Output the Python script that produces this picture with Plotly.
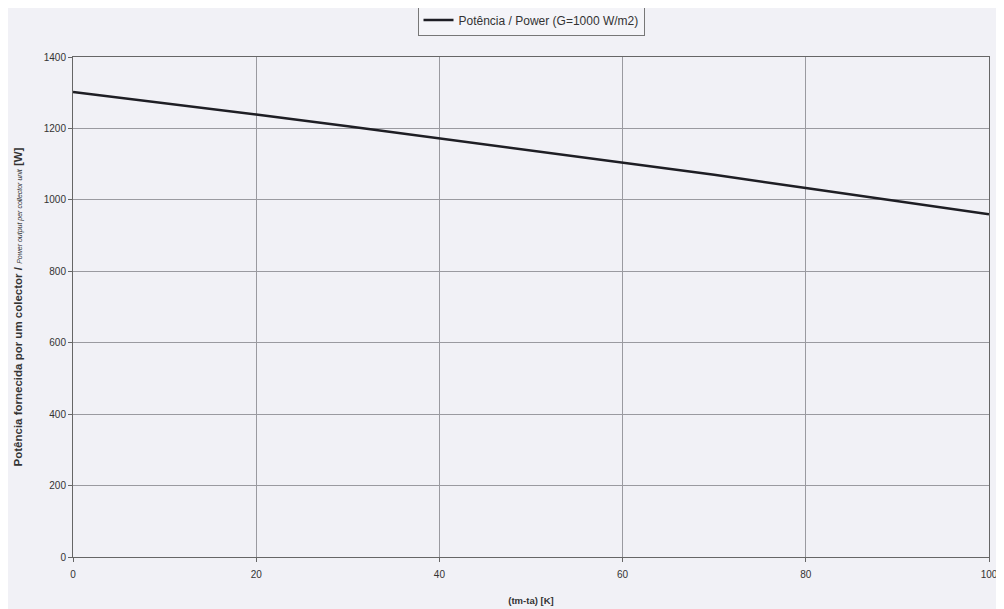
import plotly.graph_objects as go

dt = [0, 10, 20, 30, 40, 50, 60, 70, 80, 90, 100]
power = [1302, 1271, 1239, 1206, 1172, 1139, 1105, 1070, 1033, 997, 960]
x_ticks = [0, 20, 40, 60, 80, 100]
y_ticks = [0, 200, 400, 600, 800, 1000, 1200, 1400]
series_name = "Potência / Power (G=1000 W/m2)"

fig = go.Figure()
fig.add_trace(go.Scatter(x=dt, y=power, mode="lines", name=series_name,
                         line=dict(color="#1e1e24", width=2.5)))

axis_font = dict(family="Liberation Sans, Arial", size=10, color="#333")
fig.update_layout(
    width=996, height=601,
    paper_bgcolor="#f1f1f6", plot_bgcolor="#f1f1f6",
    margin=dict(l=65, r=15, t=49, b=52, autoexpand=False),
    showlegend=True,
    legend=dict(x=0.5, y=1.074, xanchor="center", yanchor="middle",
                orientation="h", bgcolor="#f4f4f8", bordercolor="#777",
                borderwidth=1, itemwidth=30, tracegroupgap=0,
                font=dict(family="Liberation Sans, Arial", size=12, color="#333")),
    xaxis=dict(range=[0, 100], tickvals=x_ticks, showgrid=True, gridcolor="#9a9aa0",
               gridwidth=1, showline=True, linecolor="#666", linewidth=1, mirror=True,
               ticks="outside", ticklen=4, tickcolor="#666", tickfont=axis_font,
               ticklabelstandoff=4,
               zeroline=False, automargin=False,
               title=dict(text="<b>(tm-ta) [K]</b>", font=dict(family="Liberation Sans, Arial", size=9.5, color="#333"),
                          standoff=18)),
    yaxis=dict(range=[0, 1400], tickvals=y_ticks, showgrid=True, gridcolor="#9a9aa0",
               gridwidth=1, showline=True, linecolor="#666", linewidth=1, mirror=True,
               ticks="outside", ticklen=4, tickcolor="#666", tickfont=axis_font,
               zeroline=True, zerolinecolor="#555", zerolinewidth=2, automargin=False,
               title=dict(text="<b>Potência fornecida por um colector / </b><i><span style='font-size:7px'>Power output per collector unit</span></i><b> [W]</b>",
                          font=dict(family="Liberation Sans, Arial", size=11.5, color="#333"),
                          standoff=18)),
)
fig.write_html("out.html")
